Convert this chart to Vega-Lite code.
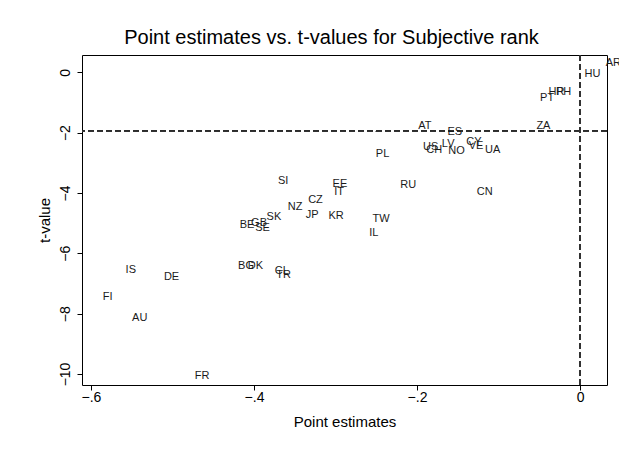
{
  "$schema": "https://vega.github.io/schema/vega-lite/v6.json",
  "width": 525,
  "height": 330,
  "autosize": {"type": "none"},
  "padding": {"left": 82, "top": 55, "right": 12, "bottom": 76},
  "background": "white",
  "title": {
    "text": "Point estimates vs. t-values for Subjective rank",
    "font": "Liberation Sans",
    "fontSize": 20,
    "fontWeight": "normal",
    "color": "black",
    "anchor": "middle",
    "frame": "group",
    "dx": -13,
    "offset": 7
  },
  "config": {
    "view": {"stroke": "black", "strokeWidth": 1},
    "font": "Liberation Sans",
    "axis": {
      "grid": false,
      "domain": false,
      "tickColor": "black",
      "tickSize": 5,
      "labelFont": "Liberation Sans",
      "labelFontSize": 14,
      "labelColor": "black",
      "titleFont": "Liberation Sans",
      "titleFontSize": 15,
      "titleFontWeight": "normal",
      "titleColor": "black"
    }
  },
  "data": {
    "values": [
      {"country": "AR", "est": 0.029, "t": 0.32},
      {"country": "HU", "est": 0.003, "t": -0.06},
      {"country": "PT", "est": -0.0515, "t": -0.84},
      {"country": "HR", "est": -0.041, "t": -0.64},
      {"country": "PH", "est": -0.032, "t": -0.64},
      {"country": "ZA", "est": -0.056, "t": -1.78},
      {"country": "AT", "est": -0.201, "t": -1.78},
      {"country": "ES", "est": -0.165, "t": -1.98},
      {"country": "US", "est": -0.195, "t": -2.49},
      {"country": "CH", "est": -0.191, "t": -2.59},
      {"country": "LV", "est": -0.172, "t": -2.39},
      {"country": "NO", "est": -0.164, "t": -2.61},
      {"country": "CY", "est": -0.142, "t": -2.31},
      {"country": "VE", "est": -0.139, "t": -2.43},
      {"country": "UA", "est": -0.119, "t": -2.59},
      {"country": "PL", "est": -0.253, "t": -2.72},
      {"country": "RU", "est": -0.223, "t": -3.74},
      {"country": "CN", "est": -0.129, "t": -3.96},
      {"country": "SI", "est": -0.373, "t": -3.59},
      {"country": "EE", "est": -0.306, "t": -3.71},
      {"country": "IT", "est": -0.304, "t": -3.98},
      {"country": "CZ", "est": -0.336, "t": -4.23},
      {"country": "NZ", "est": -0.361, "t": -4.45},
      {"country": "JP", "est": -0.339, "t": -4.73},
      {"country": "KR", "est": -0.311, "t": -4.75},
      {"country": "SK", "est": -0.387, "t": -4.8},
      {"country": "BE", "est": -0.42, "t": -5.06},
      {"country": "GB", "est": -0.406, "t": -5.0},
      {"country": "SE", "est": -0.401, "t": -5.17},
      {"country": "TW", "est": -0.257, "t": -4.86},
      {"country": "IL", "est": -0.261, "t": -5.34},
      {"country": "BG", "est": -0.422, "t": -6.43},
      {"country": "DK", "est": -0.41, "t": -6.43},
      {"country": "CL", "est": -0.377, "t": -6.6},
      {"country": "TR", "est": -0.375, "t": -6.72},
      {"country": "IS", "est": -0.56, "t": -6.55},
      {"country": "DE", "est": -0.513, "t": -6.77},
      {"country": "FI", "est": -0.588, "t": -7.46},
      {"country": "AU", "est": -0.552, "t": -8.13},
      {"country": "FR", "est": -0.475, "t": -10.06}
    ]
  },
  "layer": [
    {
      "mark": {"type": "rule", "color": "#333333", "strokeWidth": 1, "strokeDash": [6, 3]},
      "encoding": {"x": {"datum": 0, "type": "quantitative"}}
    },
    {
      "mark": {"type": "rule", "color": "#333333", "strokeWidth": 1, "strokeDash": [6, 3]},
      "encoding": {"y": {"datum": -1.96, "type": "quantitative"}}
    },
    {
      "mark": {"type": "text", "align": "left", "baseline": "middle", "dx": 2, "fontSize": 11, "color": "#1a1a1a", "font": "Liberation Sans"},
      "encoding": {
        "x": {
          "field": "est",
          "type": "quantitative",
          "scale": {"domain": [-0.611, 0.0331], "nice": false, "zero": false},
          "axis": {
            "title": "Point estimates",
            "values": [-0.6, -0.4, -0.2, 0],
            "labelExpr": "datum.value == 0 ? '0' : replace(format(datum.value, '.1f'), '0.', '.')",
            "labelPadding": 0,
            "titlePadding": 10
          }
        },
        "y": {
          "field": "t",
          "type": "quantitative",
          "scale": {"domain": [-10.365, 0.573], "nice": false, "zero": false},
          "axis": {
            "title": "t-value",
            "values": [0, -2, -4, -6, -8, -10],
            "labelAngle": 270,
            "labelAlign": "center",
            "labelBaseline": "bottom",
            "labelPadding": 5,
            "titlePadding": 6
          }
        },
        "text": {"field": "country", "type": "nominal"}
      }
    }
  ]
}
